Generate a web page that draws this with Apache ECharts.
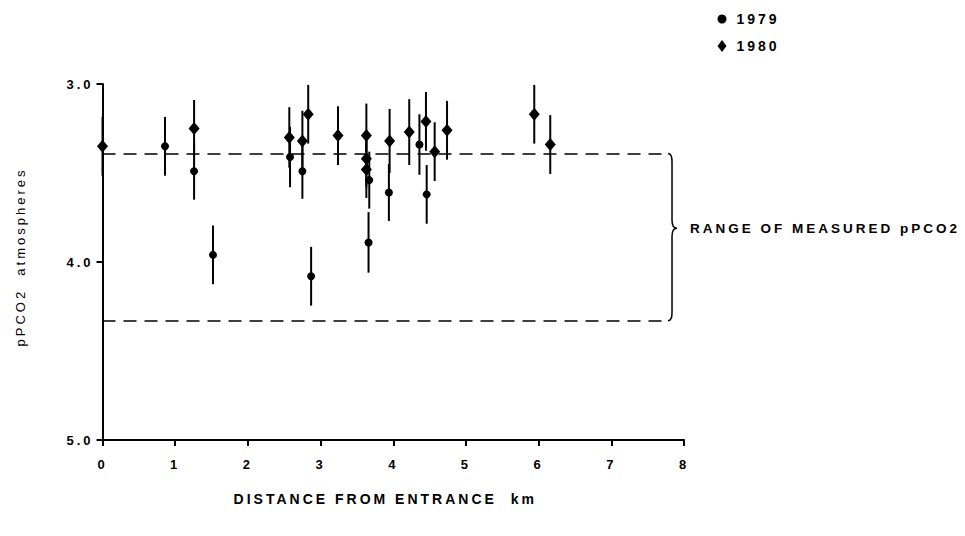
<!DOCTYPE html>
<html>
<head>
<meta charset="utf-8">
<script src="https://cdn.jsdelivr.net/npm/echarts@6/dist/echarts.min.js"></script>
<style>
  html, body { margin: 0; padding: 0; background: #fff; }
  #chart { width: 965px; height: 536px; }
  #chart text { letter-spacing: 3px; }
</style>
</head>
<body>
<div id="chart"></div>
<script>
// 1979 survey (circles)
const x1979 = [0.86, 1.26, 1.52, 2.58, 2.75, 2.87, 3.66, 3.67, 3.94, 4.36, 4.46];
const y1979 = [3.35, 3.49, 3.96, 3.41, 3.49, 4.08, 3.89, 3.54, 3.61, 3.34, 3.62];
const e1979 = [0.165, 0.16, 0.165, 0.17, 0.155, 0.165, 0.17, 0.16, 0.16, 0.17, 0.165];
// 1980 survey (diamonds)
const x1980 = [0.00, 1.26, 2.57, 2.75, 2.83, 3.24, 3.63, 3.63, 3.63, 3.95, 4.22, 4.45, 4.57, 4.74, 5.94, 6.16];
const y1980 = [3.35, 3.25, 3.30, 3.32, 3.17, 3.29, 3.29, 3.42, 3.48, 3.32, 3.27, 3.21, 3.38, 3.26, 3.17, 3.34];
const e1980 = [0.165, 0.16, 0.17, 0.17, 0.165, 0.165, 0.18, 0.16, 0.16, 0.18, 0.185, 0.165, 0.165, 0.165, 0.165, 0.165];
// range of measured pPCO2
const rangeLow = 3.39;
const rangeHigh = 4.33;
const rangeEndX = 7.78;
const rangeMid = 3.81;
const xTicks = [0, 1, 2, 3, 4, 5, 6, 7, 8];
const yTicks = [3.0, 4.0, 5.0];

const FONT = '"Liberation Sans", Arial, sans-serif';

const pts79 = x1979.map((x, i) => [x, y1979[i], e1979[i]]);
const pts80 = x1980.map((x, i) => [x, y1980[i], e1980[i]]);

function errRender(params, api) {
  const x = api.value(0), y = api.value(1), e = api.value(2);
  const p1 = api.coord([x, y - e]);
  const p2 = api.coord([x, y + e]);
  return { type: 'line', shape: { x1: p1[0], y1: p1[1], x2: p2[0], y2: p2[1] },
           style: { stroke: '#000', lineWidth: 2 } };
}

function braceRender(params, api) {
  const xv = api.value(0);
  const top = api.coord([xv, api.value(1)]);
  const bot = api.coord([xv, api.value(2)]);
  const tip = api.coord([xv, api.value(3)]);
  const X = top[0];
  const v = X + 4;
  const d = 'M' + X + ' ' + top[1] +
    ' Q' + v + ' ' + top[1] + ' ' + v + ' ' + (top[1] + 8) +
    ' L' + v + ' ' + (tip[1] - 8) +
    ' Q' + v + ' ' + tip[1] + ' ' + (v + 5) + ' ' + tip[1] +
    ' Q' + v + ' ' + tip[1] + ' ' + v + ' ' + (tip[1] + 8) +
    ' L' + v + ' ' + (bot[1] - 8) +
    ' Q' + v + ' ' + bot[1] + ' ' + X + ' ' + bot[1];
  return {
    type: 'group',
    children: [
      { type: 'path', shape: { pathData: d }, style: { fill: 'none', stroke: '#000', lineWidth: 1.5 } },
      { type: 'text', style: { text: 'RANGE OF MEASURED pPCO2', x: v + 18, y: tip[1],
          verticalAlign: 'middle', align: 'left', fill: '#000',
          font: 'bold 13.5px ' + FONT } }
    ]
  };
}

const chart = echarts.init(document.getElementById('chart'), null, { renderer: 'svg' });
chart.setOption({
  backgroundColor: '#fff',
  animation: false,
  textStyle: { fontFamily: FONT, color: '#000' },
  legend: {
    data: [{ name: '1979', icon: 'circle' }, { name: '1980', icon: 'diamond' }],
    orient: 'vertical',
    left: 717.5, top: 12, padding: 0,
    itemWidth: 9, itemHeight: 12, itemGap: 13,
    selectedMode: false,
    textStyle: { fontSize: 14, fontWeight: 'bold', color: '#000', fontFamily: FONT, padding: [0, 0, 0, 5] }
  },
  grid: { left: 102.5, right: 281, top: 84, bottom: 96, outerBoundsMode: 'none', containLabel: false },
  xAxis: {
    type: 'value', min: 0, max: 8, interval: 1,
    name: 'DISTANCE FROM ENTRANCE  km', nameLocation: 'middle', nameGap: 52,
    nameTextStyle: { fontSize: 14, fontWeight: 'bold', color: '#000', fontFamily: FONT, padding: [0, 16, 0, 0] },
    axisLine: { show: true, onZero: false, lineStyle: { color: '#000', width: 2 } },
    axisTick: { show: true, length: 6, lineStyle: { color: '#000', width: 2 } },
    axisLabel: { margin: 18, fontSize: 13, fontWeight: 'bold', color: '#000', fontFamily: FONT,
                 formatter: v => xTicks.includes(v) ? String(v) : '' },
    splitLine: { show: false }
  },
  yAxis: {
    type: 'value', min: 3, max: 5, interval: 1, inverse: true,
    name: 'pPCO2  atmospheres', nameLocation: 'middle', nameGap: 76, nameRotate: 90,
    nameTextStyle: { fontSize: 13, color: '#000', fontFamily: FONT, padding: [0, 0, 0, 10] },
    axisLine: { show: true, onZero: false, lineStyle: { color: '#000', width: 2 } },
    axisTick: { show: true, length: 6, lineStyle: { color: '#000', width: 2 } },
    axisLabel: { margin: 9, fontSize: 13, fontWeight: 'bold', color: '#000', fontFamily: FONT,
                 formatter: v => yTicks.includes(v) ? v.toFixed(1) : '' },
    splitLine: { show: false }
  },
  series: [
    { name: 'err79', type: 'custom', renderItem: errRender, data: pts79, z: 2, silent: true },
    { name: 'err80', type: 'custom', renderItem: errRender, data: pts80, z: 2, silent: true },
    { name: '1979', type: 'scatter', data: pts79, symbol: 'circle', symbolSize: 8,
      itemStyle: { color: '#000', opacity: 1 }, z: 3 },
    { name: '1980', type: 'scatter', data: pts80, symbol: 'diamond', symbolSize: [11, 13],
      itemStyle: { color: '#000', opacity: 1 }, z: 3,
      markLine: {
        silent: true, symbol: 'none', label: { show: false },
        lineStyle: { color: '#000', width: 1.5, type: [13, 8] },
        data: [
          [{ coord: [0, rangeLow] }, { coord: [rangeEndX, rangeLow] }],
          [{ coord: [0, rangeHigh] }, { coord: [rangeEndX, rangeHigh] }]
        ]
      }
    },
    { name: 'brace', type: 'custom', renderItem: braceRender, clip: false, silent: true,
      data: [[rangeEndX, rangeLow, rangeHigh, rangeMid]] }
  ]
});
</script>
</body>
</html>
